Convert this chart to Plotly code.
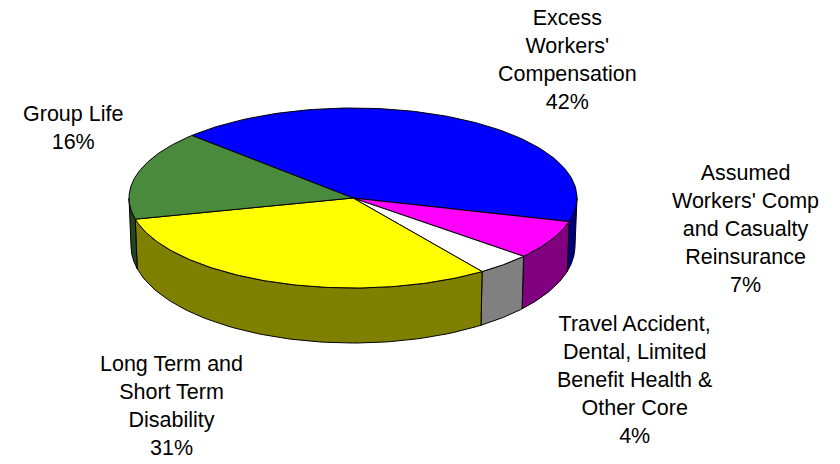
import numpy as np
import plotly.graph_objects as go

# Slice data (clockwise order, starting from the upper-left boundary)
categories = [
    "Excess<br>Workers'<br>Compensation",
    "Assumed<br>Workers' Comp<br>and Casualty<br>Reinsurance",
    "Travel Accident,<br>Dental, Limited<br>Benefit Health &<br>Other Core",
    "Long Term and<br>Short Term<br>Disability",
    "Group Life",
]
shares = [42, 7, 4, 31, 16]
top_colors = ["#0000FF", "#FF00FF", "#FFFFFF", "#FFFF00", "#4A8A3C"]
side_colors = ["#000080", "#800080", "#808080", "#808000", "#25451E"]
label_xy = [(567, 60), (745, 229), (634, 380), (171, 406), (73, 128)]

# Pie geometry in pixel units (y grows downward)
CX = 353
CY_TOP, RX_TOP, RY_TOP = 198, 224, 90
CY_BOT, RX_BOT, RY_BOT = 246, 222, 97
START_DEG = 136.0


def top_xy(t):
    return CX + RX_TOP * np.cos(t), CY_TOP - RY_TOP * np.sin(t)


def bot_xy(t):
    return CX + RX_BOT * np.cos(t), CY_BOT - RY_BOT * np.sin(t)


total = float(sum(shares))
bounds = [START_DEG]
for s in shares:
    bounds.append(bounds[-1] - s / total * 360.0)

fig = go.Figure()
line = dict(color="black", width=1)

# Side walls (only the front half of the rim is visible)
for i in range(len(shares)):
    hi, lo = bounds[i], bounds[i + 1]
    for shift in (-360.0, 0.0, 360.0):
        a = max(lo, -180.0 + shift)
        b = min(hi, 0.0 + shift)
        if b - a <= 1e-6:
            continue
        t = np.radians(np.linspace(b, a, 80))
        xt, yt = top_xy(t)
        xb, yb = bot_xy(t[::-1])
        xs = np.concatenate([xt, xb, xt[:1]])
        ys = np.concatenate([yt, yb, yt[:1]])
        fig.add_trace(go.Scatter(
            x=xs, y=ys, mode="lines", fill="toself",
            fillcolor=side_colors[i], line=line, hoverinfo="skip",
            showlegend=False,
        ))

# Top faces
for i in range(len(shares)):
    t = np.radians(np.linspace(bounds[i], bounds[i + 1], 120))
    xt, yt = top_xy(t)
    xs = np.concatenate([[CX], xt, [CX]])
    ys = np.concatenate([[CY_TOP], yt, [CY_TOP]])
    fig.add_trace(go.Scatter(
        x=xs, y=ys, mode="lines", fill="toself",
        fillcolor=top_colors[i], line=line, hoverinfo="skip",
        showlegend=False,
    ))

# Category labels with percentages
for name, share, (lx, ly) in zip(categories, shares, label_xy):
    fig.add_annotation(
        x=lx, y=ly, xref="x", yref="y",
        text=f"{name}<br>{share}%", showarrow=False,
        xanchor="center", yanchor="middle", align="center",
        font=dict(family="Arial, Liberation Sans, sans-serif", size=21.5, color="black"),
    )

fig.update_layout(
    width=840, height=464, autosize=False,
    margin=dict(l=0, r=0, t=0, b=0),
    paper_bgcolor="white", plot_bgcolor="white",
    xaxis=dict(range=[0, 840], visible=False, fixedrange=True),
    yaxis=dict(range=[464, 0], visible=False, fixedrange=True),
    showlegend=False,
)

fig.write_html("out.html")
